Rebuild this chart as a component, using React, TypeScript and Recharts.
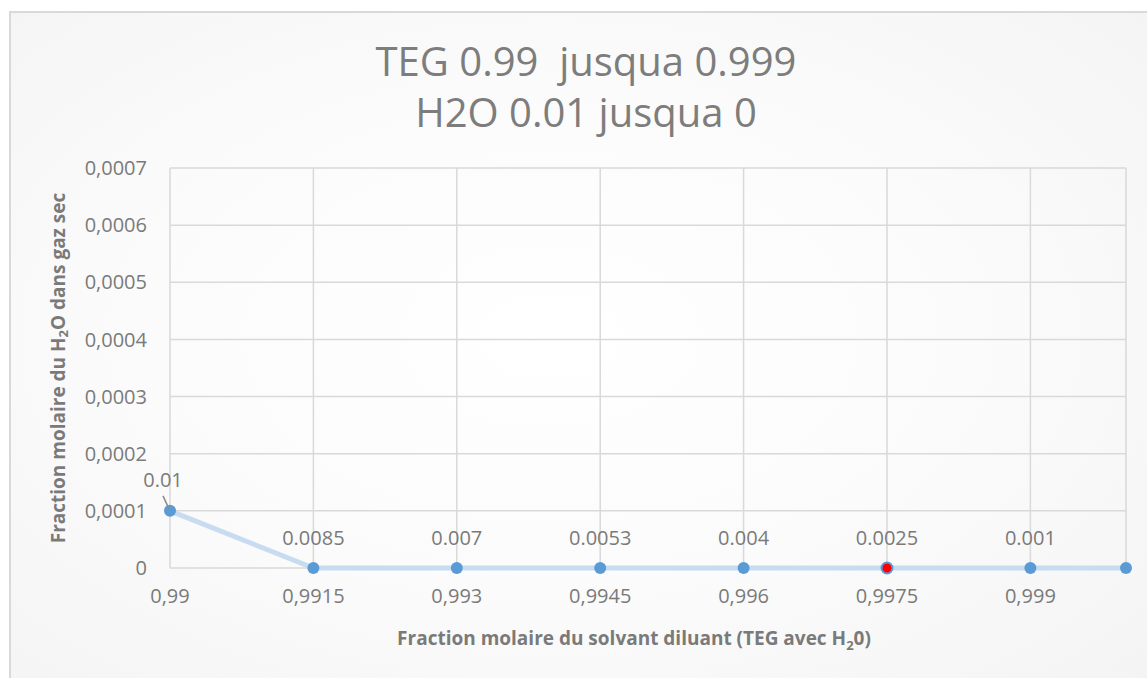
import React from 'react';
import { LineChart, Line, XAxis, YAxis, CartesianGrid, LabelList } from 'recharts';

const tegFractions = [0.99, 0.9915, 0.993, 0.9945, 0.996, 0.9975, 0.999, 1.0];
const h2oInDryGas = [0.0001, 0, 0, 0, 0, 0, 0, 0];
const h2oLabels = ['0.01', '0.0085', '0.007', '0.0053', '0.004', '0.0025', '0.001', ''];
const highlightIndex = 5;
const xTicks = [0.99, 0.9915, 0.993, 0.9945, 0.996, 0.9975, 0.999];
const yTicks = [0, 0.0001, 0.0002, 0.0003, 0.0004, 0.0005, 0.0006, 0.0007];
const titleLines = ['TEG 0.99\u00a0\u00a0jusqua 0.999', 'H2O 0.01 jusqua 0'];

const data = tegFractions.map((x, i) => ({ x, y: h2oInDryGas[i], label: h2oLabels[i] }));

const FONT = '"Open Sans", sans-serif';
const TXT = '#7a7a7a';
const GRID = '#d9d9d9';

const fmtX = (v: number) => String(v).replace('.', ',');
const fmtY = (v: number) => (v === 0 ? '0' : v.toFixed(4).replace('.', ','));

const renderDot = (props: any) => {
  const { cx, cy, index } = props;
  if (cx == null || cy == null) return <g key={`d${index}`} />;
  if (index === highlightIndex) {
    return <circle key={`d${index}`} cx={cx} cy={cy} r={5.5} fill="#ff0000" stroke="#5b9bd5" strokeWidth={2} />;
  }
  return <circle key={`d${index}`} cx={cx} cy={cy} r={6} fill="#5b9bd5" stroke="none" />;
};

const renderPointLabel = (props: any) => {
  const { x, y, value, index } = props;
  if (!value) return null;
  if (index === 0) {
    return (
      <g>
        <line x1={x - 7} y1={y - 15} x2={x - 1} y2={y - 2} stroke="#8a8a8a" strokeWidth={1.5} />
        <text x={x - 7} y={y - 24} textAnchor="middle" fontFamily={FONT} fontSize={20} fill={TXT}>
          {value}
        </text>
      </g>
    );
  }
  return (
    <text x={x} y={y - 23} textAnchor="middle" fontFamily={FONT} fontSize={20} fill={TXT}>
      {value}
    </text>
  );
};

const YTitle = (props: any) => {
  const vb = props.viewBox || {};
  const cx = vb.x - 52;
  const cy = vb.y + vb.height / 2;
  return (
    <text
      transform={`translate(${cx},${cy}) rotate(-90)`}
      textAnchor="middle"
      dominantBaseline="central"
      fontFamily={FONT}
      fontWeight={700}
      fontSize={19}
      fill={TXT}
    >
      Fraction molaire du H<tspan dy={5} fontSize={13}>2</tspan>
      <tspan dy={-5}>O dans gaz sec</tspan>
    </text>
  );
};

const XTitle = (props: any) => {
  const vb = props.viewBox || {};
  const cx = vb.x + vb.width / 2 - 14;
  return (
    <text x={cx} y={645} textAnchor="middle" fontFamily={FONT} fontWeight={700} fontSize={19} fill={TXT}>
      Fraction molaire du solvant diluant (TEG avec H<tspan dy={5} fontSize={13}>2</tspan>
      <tspan dy={-5}>0)</tspan>
    </text>
  );
};

export default function App() {
  return (
    <div style={{ position: 'absolute', left: 0, top: 0, width: 1147, height: 678, overflow: 'hidden', background: '#ffffff' }}>
      <div
        style={{
          position: 'absolute',
          left: 9,
          top: 11,
          width: 1200,
          height: 720,
          border: `2px solid ${GRID}`,
          background: 'radial-gradient(ellipse at 45% 45%, #ffffff 0%, #fbfbfb 45%, #f2f2f2 100%)',
        }}
      />
      <svg style={{ position: 'absolute', left: 0, top: 0 }} width={1147} height={150}>
        {titleLines.map((t, i) => (
          <text key={i} x={586} y={76 + i * 51} textAnchor="middle" fontFamily={FONT} fontSize={40} fill="#7d7d7d">
            {t}
          </text>
        ))}
      </svg>
      <div style={{ position: 'absolute', left: 0, top: 0 }}>
        <LineChart width={1147} height={678} data={data} margin={{ top: 168, right: 21, left: 110, bottom: 80 }}>
          <CartesianGrid stroke={GRID} strokeWidth={1.5} />
          <XAxis
            type="number"
            dataKey="x"
            domain={[0.99, 1.0]}
            ticks={xTicks}
            interval={0}
            axisLine={false}
            tickLine={false}
            tickSize={0}
            tickMargin={21}
            height={30}
            tickFormatter={fmtX}
            tick={{ fontFamily: FONT, fontSize: 20, fill: TXT }}
            label={<XTitle />}
          />
          <YAxis
            type="number"
            domain={[0, 0.0007]}
            ticks={yTicks}
            interval={0}
            axisLine={false}
            tickLine={false}
            tickSize={0}
            tickMargin={23}
            width={60}
            tickFormatter={fmtY}
            tick={{ fontFamily: FONT, fontSize: 20, fill: TXT }}
            label={<YTitle />}
          />
          <Line
            type="linear"
            dataKey="y"
            stroke="#c8dcf1"
            strokeWidth={5}
            dot={renderDot}
            activeDot={false}
            isAnimationActive={false}
          >
            <LabelList dataKey="label" content={renderPointLabel} />
          </Line>
        </LineChart>
      </div>
    </div>
  );
}
